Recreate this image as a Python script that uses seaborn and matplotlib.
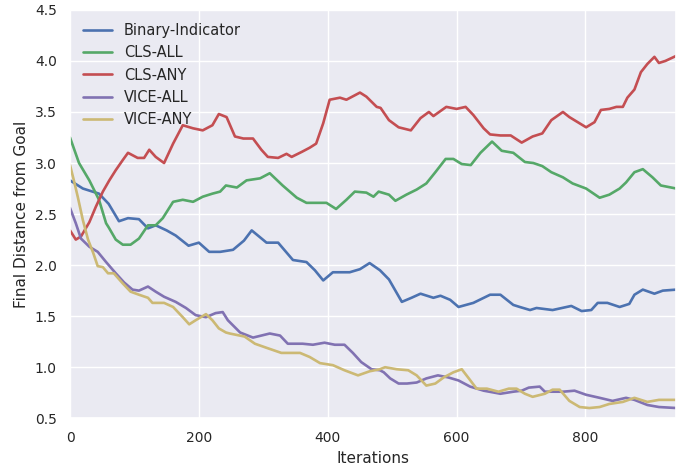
import numpy as np
import pandas as pd
import matplotlib
matplotlib.use("Agg")
import matplotlib.pyplot as plt
import seaborn as sns

# values (iteration, final distance)
binary_x = [0, 20, 45, 60, 76, 90, 107, 121, 133, 150, 164, 184, 200, 216, 233, 253,
            270, 282, 305, 323, 346, 367, 380, 393, 408, 434, 450, 465, 481, 495, 515,
            530, 544, 564, 575, 590, 603, 626, 652, 668, 688, 698, 714, 724, 749, 778,
            794, 809, 819, 834, 853, 868, 876, 889, 907, 920, 941]
binary_y = [2.83, 2.75, 2.70, 2.60, 2.43, 2.46, 2.45, 2.36, 2.39, 2.34, 2.29, 2.19, 2.22, 2.13,
            2.13, 2.15, 2.24, 2.34, 2.22, 2.22, 2.05, 2.03, 1.95, 1.85, 1.93, 1.93, 1.96, 2.02,
            1.95, 1.86, 1.64, 1.68, 1.72, 1.68, 1.70, 1.66, 1.59, 1.63, 1.71, 1.71, 1.61, 1.59,
            1.56, 1.58, 1.56, 1.60, 1.55, 1.56, 1.63, 1.63, 1.59, 1.62, 1.71, 1.76, 1.72, 1.75, 1.76]

cls_all_x = [0, 14, 30, 45, 56, 60, 71, 82, 94, 107, 121, 133, 144, 160, 175, 191, 206,
             221, 233, 242, 259, 274, 295, 310, 330, 352, 367, 388, 398, 413, 429, 442,
             460, 471, 479, 495, 505, 522, 538, 553, 567, 583, 595, 608, 622, 637, 655,
             670, 688, 706, 719, 733, 747, 765, 780, 801, 822, 837, 853, 863, 876, 889,
             904, 917, 941]
cls_all_y = [3.25, 3.00, 2.83, 2.64, 2.41, 2.37, 2.25, 2.20, 2.20, 2.26, 2.39, 2.39, 2.46, 2.62,
             2.64, 2.62, 2.67, 2.70, 2.72, 2.78, 2.76, 2.83, 2.85, 2.90, 2.78, 2.66, 2.61, 2.61,
             2.61, 2.55, 2.64, 2.72, 2.71, 2.67, 2.72, 2.69, 2.63, 2.69, 2.74, 2.80, 2.91, 3.04,
             3.04, 2.99, 2.98, 3.10, 3.21, 3.12, 3.10, 3.01, 3.00, 2.97, 2.91, 2.86, 2.80, 2.75,
             2.66, 2.69, 2.75, 2.81, 2.91, 2.94, 2.86, 2.78, 2.75]

cls_any_x = [0, 9, 17, 30, 40, 51, 61, 71, 82, 90, 105, 115, 123, 133, 146, 160, 175,
             191, 206, 221, 231, 243, 256, 269, 284, 297, 307, 323, 336, 344, 360, 372,
             382, 393, 403, 419, 429, 450, 460, 476, 482, 495, 510, 529, 544, 557, 564,
             584, 600, 614, 626, 642, 652, 668, 684, 701, 718, 733, 747, 765, 775, 788,
             801, 814, 824, 837, 848, 858, 865, 876, 886, 896, 907, 914, 924, 941]
cls_any_y = [2.34, 2.25, 2.28, 2.42, 2.57, 2.72, 2.83, 2.93, 3.03, 3.10, 3.05, 3.05, 3.13, 3.06,
             3.00, 3.19, 3.37, 3.34, 3.32, 3.37, 3.48, 3.45, 3.26, 3.24, 3.24, 3.13, 3.06, 3.05,
             3.09, 3.06, 3.11, 3.15, 3.19, 3.39, 3.62, 3.64, 3.62, 3.69, 3.65, 3.55, 3.54, 3.42,
             3.35, 3.32, 3.44, 3.50, 3.46, 3.55, 3.53, 3.55, 3.47, 3.34, 3.28, 3.27, 3.27, 3.20,
             3.26, 3.29, 3.42, 3.50, 3.45, 3.40, 3.35, 3.40, 3.52, 3.53, 3.55, 3.55, 3.64, 3.72,
             3.89, 3.97, 4.04, 3.98, 4.00, 4.05]

vice_all_x = [0, 9, 17, 30, 43, 56, 71, 84, 97, 107, 121, 133, 146, 164, 180, 195, 211,
              226, 237, 245, 264, 284, 310, 326, 338, 361, 377, 395, 411, 426, 439, 452,
              468, 481, 487, 497, 510, 523, 538, 553, 571, 587, 603, 621, 642, 668, 688,
              701, 712, 729, 737, 749, 765, 783, 801, 822, 842, 863, 876, 896, 914, 941]
vice_all_y = [2.56, 2.41, 2.26, 2.18, 2.13, 2.03, 1.92, 1.83, 1.76, 1.75, 1.79, 1.74, 1.69, 1.64,
              1.58, 1.51, 1.49, 1.53, 1.54, 1.46, 1.34, 1.29, 1.33, 1.31, 1.23, 1.23, 1.22, 1.24,
              1.22, 1.22, 1.14, 1.05, 0.98, 0.97, 0.95, 0.89, 0.84, 0.84, 0.85, 0.89, 0.92, 0.90,
              0.87, 0.81, 0.77, 0.74, 0.76, 0.77, 0.80, 0.81, 0.76, 0.76, 0.76, 0.77, 0.73, 0.70,
              0.67, 0.70, 0.68, 0.63, 0.61, 0.60]

vice_any_x = [0, 6, 12, 20, 28, 36, 43, 51, 59, 68, 82, 94, 107, 121, 128, 146, 160,
              175, 185, 195, 211, 221, 231, 242, 248, 271, 287, 305, 328, 357, 372, 388,
              408, 426, 447, 465, 481, 489, 507, 525, 538, 553, 567, 580, 595, 608, 619,
              631, 647, 665, 681, 693, 706, 718, 737, 749, 760, 775, 791, 806, 822, 837,
              858, 876, 896, 914, 941]
vice_any_y = [2.98, 2.83, 2.67, 2.44, 2.25, 2.12, 1.99, 1.98, 1.92, 1.92, 1.82, 1.74, 1.71, 1.68,
              1.63, 1.63, 1.59, 1.49, 1.42, 1.46, 1.52, 1.46, 1.38, 1.34, 1.33, 1.30, 1.23, 1.19,
              1.14, 1.14, 1.10, 1.04, 1.02, 0.97, 0.92, 0.96, 0.98, 1.00, 0.98, 0.97, 0.92, 0.82,
              0.84, 0.90, 0.95, 0.98, 0.89, 0.79, 0.79, 0.76, 0.79, 0.79, 0.74, 0.71, 0.74, 0.78,
              0.78, 0.67, 0.61, 0.60, 0.61, 0.64, 0.66, 0.70, 0.66, 0.68, 0.68]

methods = ["Binary-Indicator", "CLS-ALL", "CLS-ANY", "VICE-ALL", "VICE-ANY"]
colors = ["#4C72B0", "#55A868", "#C44E52", "#8172B2", "#CCB974"]

series = [(binary_x, binary_y), (cls_all_x, cls_all_y), (cls_any_x, cls_any_y),
          (vice_all_x, vice_all_y), (vice_any_x, vice_any_y)]
frames = []
for name, (xs, ys) in zip(methods, series):
    frames.append(pd.DataFrame({"Iterations": xs, "dist": ys, "method": name}))
df = pd.concat(frames, ignore_index=True)

sns.set_theme(style="darkgrid")
plt.rcParams["font.family"] = ["DejaVu Sans"]

fig, ax = plt.subplots(figsize=(6.77, 4.71), dpi=100)
sns.lineplot(data=df, x="Iterations", y="dist", hue="method", hue_order=methods,
             palette=colors, linewidth=1.9, ax=ax, estimator=None, sort=True)

ax.set_xlim(0, 941)
ax.set_ylim(0.5, 4.5)
ax.set_xticks([0, 200, 400, 600, 800])
ax.set_xlabel("Iterations", fontsize=11)
ax.set_ylabel("Final Distance from Goal", fontsize=11)
ax.tick_params(labelsize=10)
ax.legend(loc="upper left", frameon=False, fontsize=10.5, title=None)

plt.subplots_adjust(left=0.1034, right=0.999, top=0.979, bottom=0.112)
plt.savefig("out.png", dpi=100)
plt.close()
